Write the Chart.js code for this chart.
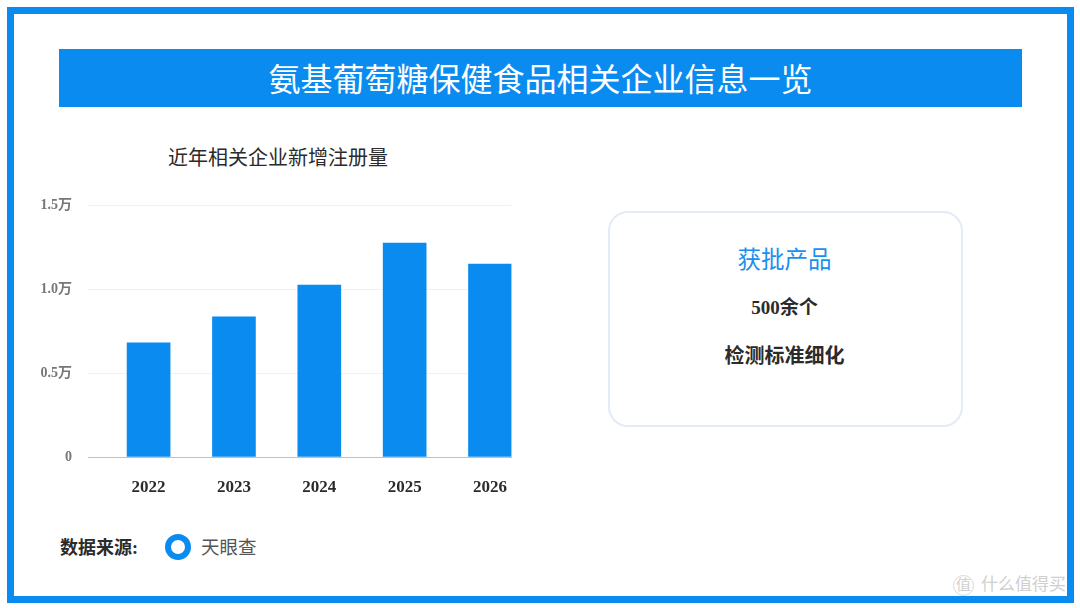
<!DOCTYPE html>
<html lang="zh-CN">
<head>
<meta charset="utf-8">
<title>氨基葡萄糖保健食品相关企业信息一览</title>
<script src="https://cdn.jsdelivr.net/npm/chart.js@4"></script>
<style>
  html, body { margin: 0; padding: 0; background: #fff; }
  body {
    position: relative; width: 1080px; height: 608px; overflow: hidden;
    font-family: "Liberation Serif", "Noto Sans CJK SC", serif; color: #2b2b2b;
  }
  .frame { position: absolute; left: 7px; top: 7px; width: 1053px; height: 582px; border: 7px solid #0a8bef; }
  .banner {
    position: absolute; left: 59px; top: 49px; width: 963px; height: 58px; line-height: 63px;
    background: #0a8bef; color: #fff; font-size: 32px; text-align: center;
  }
  .chartTitle { position: absolute; left: 128px; top: 143px; width: 300px; font-size: 20px; line-height: 30px; text-align: center; }
  /* canvas runs past the plot: Chart.js keeps room for half of the last tick label */
  #chartWrap { position: absolute; left: 30px; top: 181px; width: 497px; height: 324px; }
  .card {
    position: absolute; left: 608px; top: 211px; width: 351px; height: 212px;
    border: 2px solid #e3ebf6; border-radius: 20px; text-align: center;
  }
  .card div { position: absolute; left: 0; right: 0; }
  .card .head { top: 30px; left: -2px; font-size: 23.5px; line-height: 34px; color: #1a90ee; }
  .card .line1 { top: 80px; left: -2px; font-size: 19px; line-height: 30px; font-weight: bold; }
  .card .line2 { top: 128px; left: -2px; font-size: 20px; line-height: 30px; font-weight: bold; }
  .source { position: absolute; left: 60px; top: 535px; font-size: 18px; line-height: 26px; font-weight: bold; }
  .ring { position: absolute; left: 165px; top: 534px; width: 14px; height: 14px; border: 6px solid #0a8bef; border-radius: 50%; }
  .sourceName { position: absolute; left: 201px; top: 535px; font-size: 18.5px; line-height: 26px; color: #555; }
  .mark { position: absolute; color: #cfcfcf; text-shadow: 0 0 2px #fff; }
  .markIcon {
    left: 953px; top: 575px; width: 19px; height: 19px; line-height: 19px; font-size: 15px; text-align: center;
    border: 1px solid #d8d8d8; border-radius: 50%;
  }
  .markText { left: 981px; top: 574px; font-size: 17px; line-height: 22px; }
</style>
</head>
<body>
<div class="frame"></div>
<div class="banner">氨基葡萄糖保健食品相关企业信息一览</div>
<div class="chartTitle">近年相关企业新增注册量</div>
<div id="chartWrap"><canvas id="regChart"></canvas></div>
<div class="card">
  <div class="head">获批产品</div>
  <div class="line1">500余个</div>
  <div class="line2">检测标准细化</div>
</div>
<div class="source">数据来源:</div>
<div class="ring"></div>
<div class="sourceName">天眼查</div>
<div class="mark markIcon">值</div>
<div class="mark markText">什么值得买</div>

<script>
const years = [2022, 2023, 2024, 2025, 2026]
// new registrations, in units of 万
const registrations = [0.68, 0.835, 1.025, 1.275, 1.15]
const yTicks = [0, 0.5, 1.0, 1.5]

const BLUE = '#0a8bef'
const FONT = '"Liberation Serif", "Noto Sans CJK SC", serif'

// The bars sit off-centre in the plot (the last one touches the right edge),
// so the x axis is linear with its range set by hand rather than a category axis.
new Chart(document.getElementById('regChart'), {
  type: 'bar',
  data: {
    datasets: [{
      data: years.map((year, i) => ({ x: year, y: registrations[i] })),
      backgroundColor: BLUE,
      barThickness: 43
    }]
  },
  options: {
    responsive: true,
    maintainAspectRatio: false,
    animation: false,
    layout: { padding: { top: 10 } },
    plugins: {
      legend: { display: false }
    },
    scales: {
      x: {
        type: 'linear',
        offset: false,
        min: 2021.29,
        max: 2026.252,
        afterBuildTicks: axis => { axis.ticks = years.map(value => ({ value })) },
        afterFit: axis => { axis.height = 48 },
        grid: { display: false, drawTicks: false },
        border: { color: '#b4c4d4', width: 1 },
        ticks: {
          callback: value => String(value),
          color: '#2b2b2b',
          padding: 20,
          maxRotation: 0,
          font: { family: FONT, size: 17, weight: 'bold' }
        }
      },
      y: {
        min: 0,
        max: 1.5,
        afterBuildTicks: axis => { axis.ticks = yTicks.map(value => ({ value })) },
        afterFit: axis => { axis.width = 58 },
        grid: { color: '#edf2f8', lineWidth: 1, drawTicks: false },
        border: { display: false },
        ticks: {
          callback: value => (value === 0 ? '0' : value.toFixed(1) + '万'),
          color: '#777',
          padding: 16,
          font: { family: FONT, size: 14, weight: 'bold' }
        }
      }
    }
  }
})
</script>
</body>
</html>
